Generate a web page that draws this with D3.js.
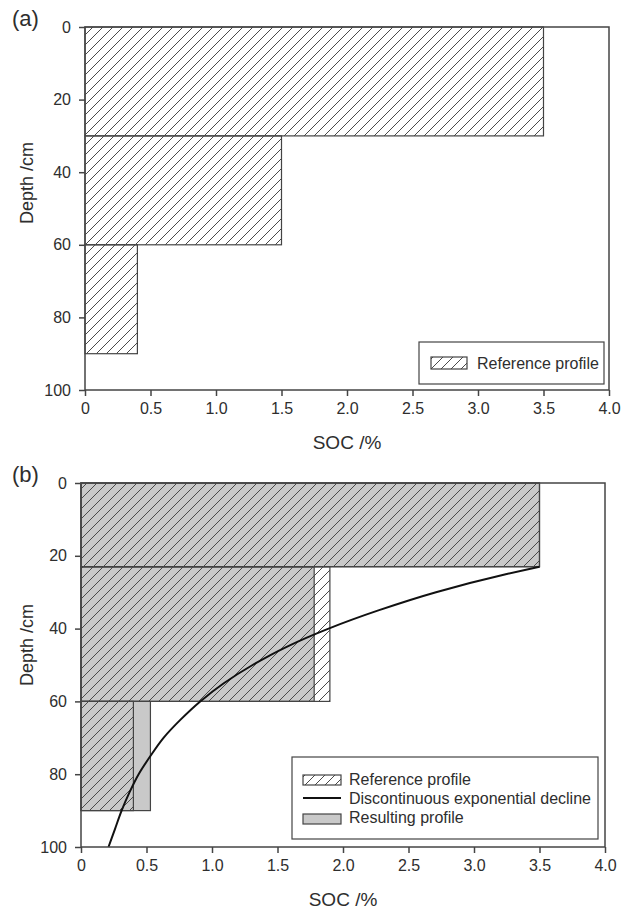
<!DOCTYPE html>
<html>
<head>
<meta charset="utf-8">
<script src="https://cdn.jsdelivr.net/npm/d3@7"></script>
<style>
  body { margin: 0; background: #fff; }
  svg { font-family: "Liberation Sans", Arial, sans-serif; }
</style>
</head>
<body>
<svg id="chart" width="633" height="909"></svg>
<script>
// Panel (a): reference profile layers
const layerTopA = [0, 30, 60];
const layerBotA = [30, 60, 90];
const refSocA = [3.5, 1.5, 0.4];

// Panel (b): layers, reference and resulting profile
const layerTopB = [0, 23, 60];
const layerBotB = [23, 60, 90];
const refSocB = [3.5, 1.9, 0.4];
const resSocB = [3.5, 1.78, 0.53];

// Discontinuous exponential decline
const curveDepth = [23, 25, 30, 35, 40, 45, 50, 55, 60, 65, 70, 75, 80, 85, 90, 95, 100];
const curveSoc = [3.5, 3.25, 2.71, 2.27, 1.89, 1.57, 1.31, 1.09, 0.91, 0.76, 0.63, 0.53, 0.44, 0.37, 0.31, 0.26, 0.21];

const xTicks = [0, 0.5, 1.0, 1.5, 2.0, 2.5, 3.0, 3.5, 4.0];
const yTicks = [0, 20, 40, 60, 80, 100];

const axisColor = "#444";
const textColor = "#2e2e2e";
const grayFill = "#c9c9c9";

const svg = d3.select("#chart");

// hatch pattern
const defs = svg.append("defs");
const pat = defs.append("pattern")
    .attr("id", "hatch")
    .attr("patternUnits", "userSpaceOnUse")
    .attr("width", 10)
    .attr("height", 10);
pat.append("path")
    .attr("d", "M0,10 L10,0 M-2.5,2.5 L2.5,-2.5 M7.5,12.5 L12.5,7.5")
    .attr("stroke", "#4a4a4a")
    .attr("stroke-width", 1);

function drawPanel(opts) {
    const g = svg.append("g");
    const x = d3.scaleLinear().domain([0, 4]).range([opts.left, opts.right]);
    const y = d3.scaleLinear().domain([0, 100]).range([opts.top, opts.bottom]);

    const layers = opts.tops.map((t, i) => ({
        top: t, bot: opts.bots[i], ref: opts.ref[i], res: opts.res ? opts.res[i] : null
    }));

    // resulting profile (gray)
    if (opts.res) {
        g.selectAll(".res")
            .data(layers)
            .enter().append("rect")
            .attr("class", "res")
            .attr("x", x(0))
            .attr("y", d => y(d.top))
            .attr("width", d => x(d.res) - x(0))
            .attr("height", d => y(d.bot) - y(d.top))
            .attr("fill", grayFill);
    }

    // reference profile (hatched)
    g.selectAll(".ref")
        .data(layers)
        .enter().append("rect")
        .attr("class", "ref")
        .attr("x", x(0))
        .attr("y", d => y(d.top))
        .attr("width", d => x(d.ref) - x(0))
        .attr("height", d => y(d.bot) - y(d.top))
        .attr("fill", "url(#hatch)")
        .attr("stroke", axisColor)
        .attr("stroke-width", 1.2);

    if (opts.res) {
        g.selectAll(".resOutline")
            .data(layers)
            .enter().append("rect")
            .attr("x", x(0))
            .attr("y", d => y(d.top))
            .attr("width", d => x(d.res) - x(0))
            .attr("height", d => y(d.bot) - y(d.top))
            .attr("fill", "none")
            .attr("stroke", axisColor)
            .attr("stroke-width", 1.2);

        const line = d3.line()
            .x((d, i) => x(curveSoc[i]))
            .y(d => y(d))
            .curve(d3.curveMonotoneY);
        g.append("path")
            .datum(curveDepth)
            .attr("d", line)
            .attr("fill", "none")
            .attr("stroke", "#111")
            .attr("stroke-width", 2);
    }

    // frame
    g.append("rect")
        .attr("x", opts.left)
        .attr("y", opts.top)
        .attr("width", opts.right - opts.left)
        .attr("height", opts.bottom - opts.top)
        .attr("fill", "none")
        .attr("stroke", axisColor)
        .attr("stroke-width", 1.5);

    // axes
    const yAxis = g.append("g")
        .attr("transform", `translate(${opts.left},0)`)
        .call(d3.axisLeft(y).tickValues(yTicks).tickSize(6).tickPadding(opts.yPad).tickSizeOuter(0));
    const xAxis = g.append("g")
        .attr("transform", `translate(0,${opts.bottom})`)
        .call(d3.axisBottom(x).tickValues(xTicks).tickSize(6).tickPadding(7).tickSizeOuter(0)
            .tickFormat(d => d === 0 ? "0" : d3.format(".1f")(d)));
    [yAxis, xAxis].forEach(a => {
        a.select(".domain").remove();
        a.selectAll("line").attr("stroke", axisColor).attr("stroke-width", 1.5);
        a.selectAll("text")
            .attr("fill", textColor)
            .style("font-size", "16px")
            .style("font-family", "'Liberation Sans', Arial, sans-serif");
    });

    // titles
    g.append("text")
        .attr("x", (opts.left + opts.right) / 2)
        .attr("y", opts.bottom + 59)
        .attr("text-anchor", "middle")
        .attr("fill", textColor)
        .style("font-size", "19px")
        .text("SOC /%");
    g.append("text")
        .attr("transform", `translate(33,${opts.depthY}) rotate(-90)`)
        .attr("text-anchor", "middle")
        .attr("fill", textColor)
        .style("font-size", "18px")
        .text("Depth /cm");
    g.append("text")
        .attr("x", 12)
        .attr("y", opts.top - 1)
        .attr("fill", textColor)
        .style("font-size", "22px")
        .text(opts.label);

    return g;
}

const ga = drawPanel({
    left: 85, right: 609, top: 27, bottom: 390,
    tops: layerTopA, bots: layerBotA, ref: refSocA, res: null,
    label: "(a)", depthY: 183, yPad: 8
});

const gb = drawPanel({
    left: 81, right: 605, top: 483, bottom: 847,
    tops: layerTopB, bots: layerBotB, ref: refSocB, res: resSocB,
    label: "(b)", depthY: 645, yPad: 8
});

// legend (a)
const la = svg.append("g");
la.append("rect").attr("x", 419).attr("y", 342).attr("width", 185).attr("height", 42)
    .attr("fill", "#fff").attr("stroke", axisColor).attr("stroke-width", 1.2);
la.append("rect").attr("x", 431).attr("y", 357).attr("width", 36).attr("height", 12)
    .attr("fill", "url(#hatch)").attr("stroke", axisColor).attr("stroke-width", 1.2);
la.append("text").attr("x", 477).attr("y", 369).attr("fill", textColor)
    .style("font-size", "16px").text("Reference profile");

// legend (b)
const lb = svg.append("g");
lb.append("rect").attr("x", 292).attr("y", 757).attr("width", 306).attr("height", 82)
    .attr("fill", "#fff").attr("stroke", axisColor).attr("stroke-width", 1.2);
lb.append("rect").attr("x", 303).attr("y", 775).attr("width", 38).attr("height", 10)
    .attr("fill", "url(#hatch)").attr("stroke", axisColor).attr("stroke-width", 1.2);
lb.append("line").attr("x1", 303).attr("x2", 341).attr("y1", 798).attr("y2", 798)
    .attr("stroke", "#111").attr("stroke-width", 2);
lb.append("rect").attr("x", 303).attr("y", 814).attr("width", 38).attr("height", 10)
    .attr("fill", grayFill).attr("stroke", axisColor).attr("stroke-width", 1.2);
const legTexts = ["Reference profile", "Discontinuous exponential decline", "Resulting profile"];
lb.selectAll(".lt").data(legTexts).enter().append("text")
    .attr("x", 349)
    .attr("y", (d, i) => 785 + i * 19)
    .attr("fill", textColor)
    .style("font-size", "16px")
    .text(d => d);
</script>
</body>
</html>
